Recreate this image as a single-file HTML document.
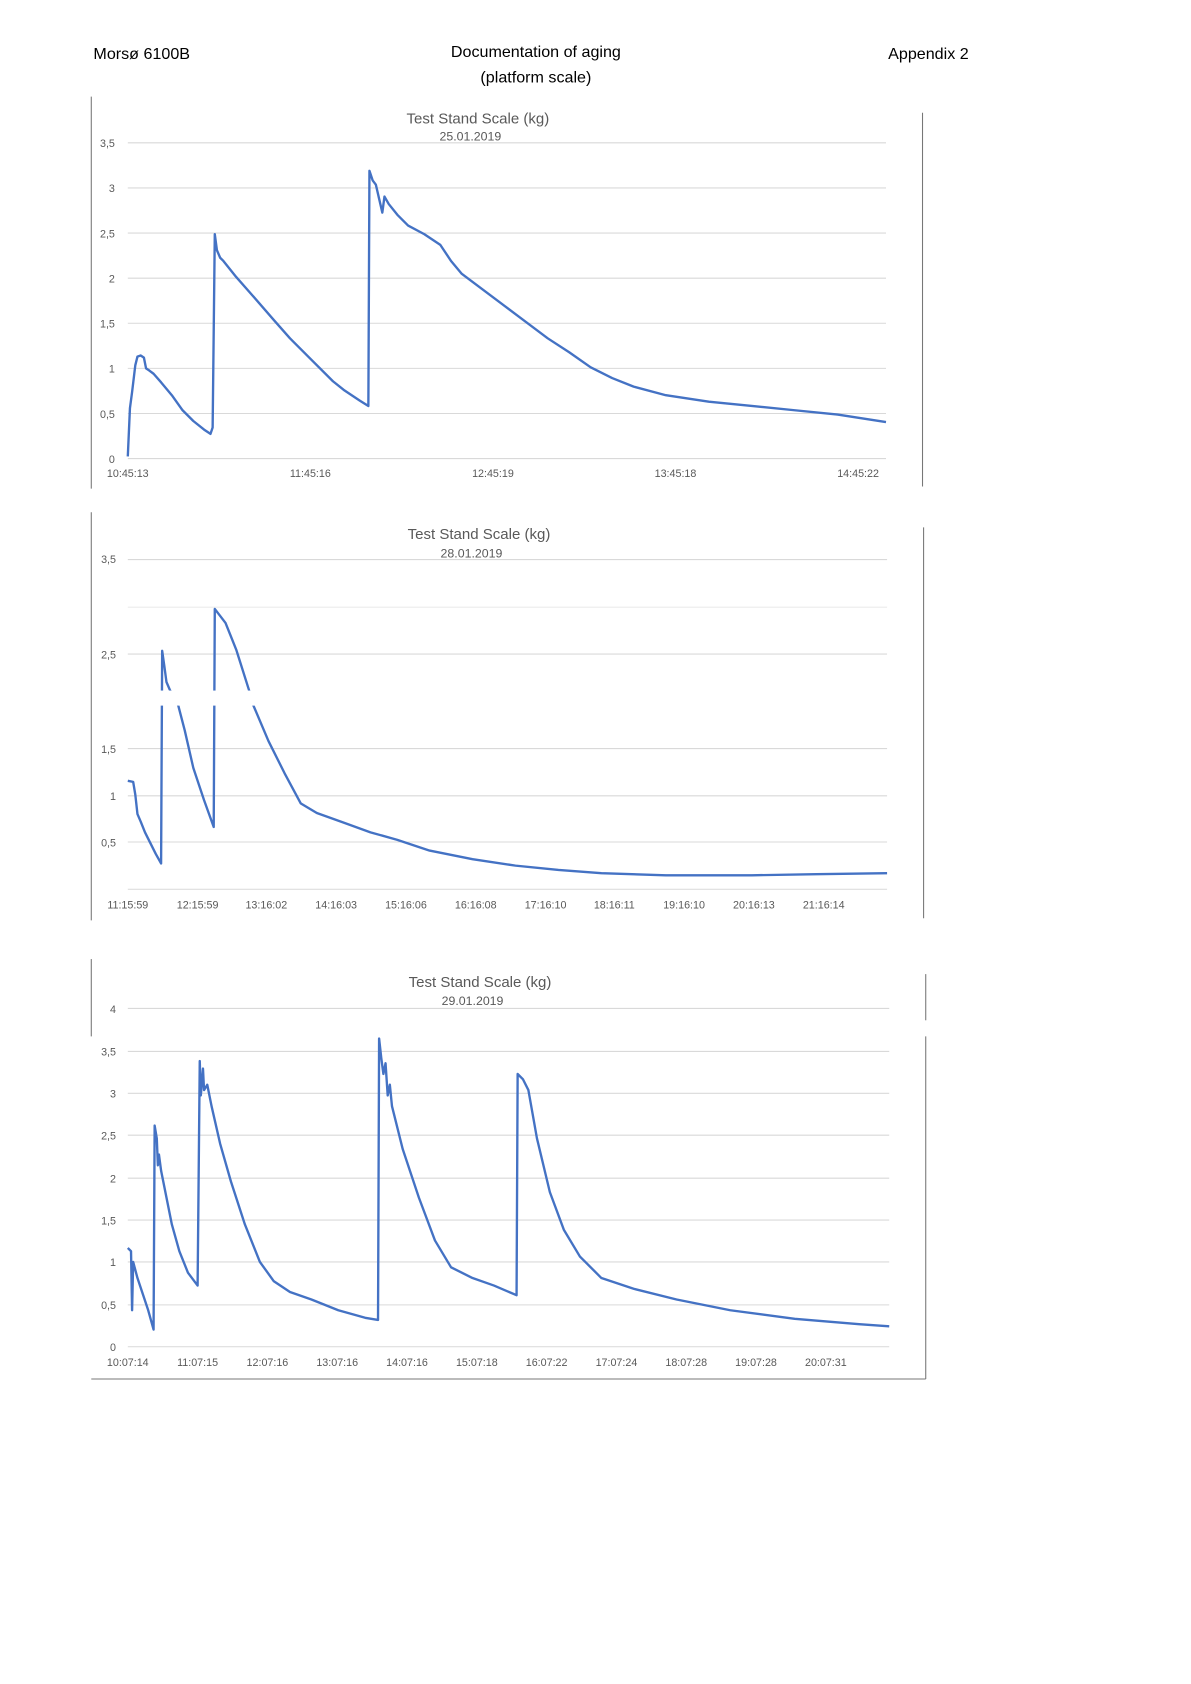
<!DOCTYPE html>
<html><head><meta charset="utf-8"><style>
html,body{margin:0;padding:0;background:#fff;}
svg{display:block;}
.h{font-family:"Liberation Sans",sans-serif;font-size:15px;fill:#000;}
.t{font-family:"Liberation Sans",sans-serif;font-size:14px;fill:#595959;}
.d{font-family:"Liberation Sans",sans-serif;font-size:11.5px;fill:#595959;}
.a{font-family:"Liberation Sans",sans-serif;font-size:10px;fill:#595959;}
.g{stroke:#d9d9d9;stroke-width:1;}
.s{fill:none;stroke:#4472c4;stroke-width:2.2;stroke-linejoin:round;}
.b{stroke:#777;stroke-width:1;}
</style></head><body>
<svg width="1191" height="1684" viewBox="0 0 1109 1568" preserveAspectRatio="none">
<text class="h" x="87" y="55">Morsø 6100B</text>
<text class="h" x="499" y="53" text-anchor="middle">Documentation of aging</text>
<text class="h" x="499" y="77" text-anchor="middle">(platform scale)</text>
<text class="h" x="827" y="55">Appendix 2</text>

<!-- Chart 1 -->
<line class="b" x1="85" y1="90" x2="85" y2="455"/>
<line class="b" x1="859" y1="105" x2="859" y2="453"/>
<text class="t" x="445" y="115" text-anchor="middle">Test Stand Scale (kg)</text>
<text class="d" x="438" y="131" text-anchor="middle">25.01.2019</text>
<g>
<line class="g" x1="119" y1="133" x2="825" y2="133"/><line class="g" x1="119" y1="175" x2="825" y2="175"/>
<line class="g" x1="119" y1="217" x2="825" y2="217"/><line class="g" x1="119" y1="259" x2="825" y2="259"/>
<line class="g" x1="119" y1="301" x2="825" y2="301"/><line class="g" x1="119" y1="343" x2="825" y2="343"/>
<line class="g" x1="119" y1="385" x2="825" y2="385"/><line class="g" x1="119" y1="427" x2="825" y2="427"/>
</g>
<g class="a" text-anchor="end">
<text x="107" y="137">3,5</text><text x="107" y="179">3</text><text x="107" y="221">2,5</text><text x="107" y="263">2</text>
<text x="107" y="305">1,5</text><text x="107" y="347">1</text><text x="107" y="389">0,5</text><text x="107" y="431">0</text>
</g>
<g class="a" text-anchor="middle">
<text x="119" y="444">10:45:13</text><text x="289" y="444">11:45:16</text><text x="459" y="444">12:45:19</text><text x="629" y="444">13:45:18</text><text x="799" y="444">14:45:22</text>
</g>
<polyline class="s" points="119,425 121,380 123,365 126,340 128,332 131,331 134,333 136,343 139,345 143,348 150,356 160,368 170,382 180,392 190,400 196,404 198,398 200,218 202,233 205,240 208,243 212,248 220,258 235,275 255,298 270,315 290,335 310,355 320,363 335,373 343,378 344,159 347,168 350,172 353,185 356,198 358,183 362,190 370,200 380,210 395,218 410,228 420,243 430,255 450,270 470,285 490,300 510,315 530,328 550,342 570,352 590,360 620,368 660,374 700,378 740,382 780,386 825,393"/>

<!-- Chart 2 -->
<line class="b" x1="85" y1="477" x2="85" y2="857"/>
<line class="b" x1="860" y1="491" x2="860" y2="855"/>
<text class="t" x="446" y="502" text-anchor="middle">Test Stand Scale (kg)</text>
<text class="d" x="439" y="519" text-anchor="middle">28.01.2019</text>
<g>
<line class="g" x1="119" y1="521" x2="826" y2="521"/><line class="g" x1="119" y1="565" x2="826" y2="565"/>
<line class="g" x1="119" y1="609" x2="826" y2="609"/><line class="g" x1="119" y1="653" x2="826" y2="653"/>
<line class="g" x1="119" y1="697" x2="826" y2="697"/><line class="g" x1="119" y1="741" x2="826" y2="741"/>
<line class="g" x1="119" y1="784" x2="826" y2="784"/><line class="g" x1="119" y1="828" x2="826" y2="828"/>
</g>
<g class="a" text-anchor="end">
<text x="108" y="613">2,5</text>
<text x="108" y="701">1,5</text><text x="108" y="745">1</text><text x="108" y="788">0,5</text>
</g>
<g class="a" text-anchor="middle">
<text x="119" y="846">11:15:59</text><text x="184" y="846">12:15:59</text><text x="248" y="846">13:16:02</text><text x="313" y="846">14:16:03</text>
<text x="378" y="846">15:16:06</text><text x="443" y="846">16:16:08</text><text x="508" y="846">17:16:10</text><text x="572" y="846">18:16:11</text>
<text x="637" y="846">19:16:10</text><text x="702" y="846">20:16:13</text><text x="767" y="846">21:16:14</text>
</g>
<polyline class="s" points="119,727 124,728 126,740 128,758 131,765 135,775 140,785 145,795 150,804 151,606 153,620 155,635 158,642 166,657 172,680 180,715 190,745 199,770 200,567 210,580 220,605 232,643 236,657 250,690 265,720 280,748 295,757 320,766 345,775 370,782 400,792 440,800 480,806 520,810 560,813 620,815 700,815 760,814 826,813"/>
<rect x="88" y="523" width="771" height="42" fill="#fff"/>
<rect x="88" y="643" width="771" height="14" fill="#fff"/>
<text class="a" x="108" y="524" text-anchor="end">3,5</text>

<!-- Chart 3 -->
<line class="b" x1="85" y1="893" x2="85" y2="965"/>
<line class="b" x1="862" y1="907" x2="862" y2="950"/>
<line class="b" x1="862" y1="965" x2="862" y2="1284"/>
<line class="b" x1="85" y1="1284" x2="862" y2="1284"/>
<text class="t" x="447" y="919" text-anchor="middle">Test Stand Scale (kg)</text>
<text class="d" x="440" y="936" text-anchor="middle">29.01.2019</text>
<g>
<line class="g" x1="119" y1="939" x2="828" y2="939"/><line class="g" x1="119" y1="979" x2="828" y2="979"/>
<line class="g" x1="119" y1="1018" x2="828" y2="1018"/><line class="g" x1="119" y1="1057" x2="828" y2="1057"/>
<line class="g" x1="119" y1="1097" x2="828" y2="1097"/><line class="g" x1="119" y1="1136" x2="828" y2="1136"/>
<line class="g" x1="119" y1="1175" x2="828" y2="1175"/><line class="g" x1="119" y1="1215" x2="828" y2="1215"/>
<line class="g" x1="119" y1="1254" x2="828" y2="1254"/>
</g>
<g class="a" text-anchor="end">
<text x="108" y="943">4</text><text x="108" y="983">3,5</text><text x="108" y="1022">3</text><text x="108" y="1061">2,5</text>
<text x="108" y="1101">2</text><text x="108" y="1140">1,5</text><text x="108" y="1179">1</text><text x="108" y="1219">0,5</text><text x="108" y="1258">0</text>
</g>
<g class="a" text-anchor="middle">
<text x="119" y="1272">10:07:14</text><text x="184" y="1272">11:07:15</text><text x="249" y="1272">12:07:16</text><text x="314" y="1272">13:07:16</text>
<text x="379" y="1272">14:07:16</text><text x="444" y="1272">15:07:18</text><text x="509" y="1272">16:07:22</text><text x="574" y="1272">17:07:24</text>
<text x="639" y="1272">18:07:28</text><text x="704" y="1272">19:07:28</text><text x="769" y="1272">20:07:31</text>
</g>
<polyline class="s" points="119,1162 122,1165 123,1220 124,1175 128,1190 133,1205 138,1220 143,1238 144,1048 146,1060 147,1085 148,1075 150,1090 155,1115 160,1140 167,1165 175,1185 184,1197 186,988 187,1020 189,995 190,1015 193,1010 197,1030 205,1065 215,1100 228,1140 242,1175 255,1193 270,1203 290,1210 315,1220 340,1227 352,1229 353,967 355,985 357,1000 359,990 361,1020 363,1010 365,1030 375,1070 390,1115 405,1155 420,1180 440,1190 460,1197 481,1206 482,1000 487,1005 492,1015 500,1060 512,1110 525,1145 540,1170 560,1190 590,1200 630,1210 680,1220 740,1228 800,1233 828,1235"/>
</svg>
</body></html>
